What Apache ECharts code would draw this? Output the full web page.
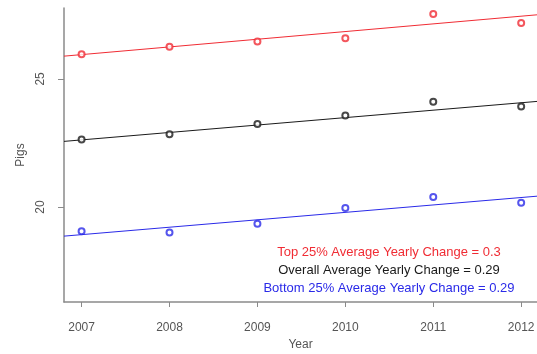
<!DOCTYPE html>
<html>
<head>
<meta charset="utf-8">
<title>Pigs by Year</title>
<script src="https://cdn.jsdelivr.net/npm/echarts@6/dist/echarts.min.js"></script>
<style>
  html, body { margin: 0; padding: 0; background: #ffffff; }
  #chart { width: 537px; height: 354px; }
</style>
</head>
<body>
<div id="chart"></div>
<script>
// Yearly pig counts for three groups
const years = [2007, 2008, 2009, 2010, 2011, 2012];
const top25 = [25.96, 26.26, 26.46, 26.59, 27.54, 27.18];
const overall = [22.64, 22.84, 23.24, 23.57, 24.11, 23.92];
const bottom25 = [19.05, 19.00, 19.35, 19.96, 20.39, 20.17];

// Trend lines: yearly change (slope) and fitted value in 2007
const slopes = [0.3, 0.29, 0.29];
const fitStart = [25.95, 22.62, 18.92];

const yTicks = [20, 25];
const noteLines = [
  'Top 25% Average Yearly Change = 0.3',
  'Overall Average Yearly Change = 0.29',
  'Bottom 25% Average Yearly Change = 0.29'
];

const colors = ['#f02c34', '#1a1a1a', '#2a2ae8'];
const groups = [top25, overall, bottom25];

const xMin = 2006.8, xMax = 2012.18;
const yMin = 16.29, yMax = 27.77;

function trend(i) {
  const at = x => fitStart[i] + slopes[i] * (x - years[0]);
  return [[xMin, at(xMin)], [xMax, at(xMax)]];
}

const series = [];
groups.forEach((vals, i) => {
  series.push({
    type: 'line',
    data: trend(i),
    symbol: 'none',
    lineStyle: { color: colors[i], width: 1 },
    silent: true,
    z: 2
  });
  series.push({
    type: 'scatter',
    data: years.map((y, k) => [y, vals[k]]),
    symbol: 'emptyCircle',
    symbolSize: 6,
    itemStyle: { color: colors[i], borderColor: colors[i], borderWidth: 1.6 },
    z: 3
  });
});

const font = 'Liberation Sans, Arial, sans-serif';
const axisGrey = '#8a8a8a';
const textGrey = '#555555';

const chart = echarts.init(document.getElementById('chart'), null, { renderer: 'canvas' });
chart.setOption({
  animation: false,
  backgroundColor: '#ffffff',
  grid: { left: 64, right: 0, top: 8, bottom: 52, outerBoundsMode: 'none', containLabel: false },
  xAxis: {
    type: 'value',
    min: xMin,
    max: xMax,
    name: 'Year',
    nameLocation: 'middle',
    nameGap: 37,
    nameTextStyle: { color: textGrey, fontFamily: font, fontSize: 12 },
    axisLine: { show: true, lineStyle: { color: axisGrey, width: 1.5 } },
    axisTick: { show: true, length: 5, lineStyle: { color: axisGrey }, customValues: years },
    axisLabel: {
      color: textGrey, fontFamily: font, fontSize: 12, margin: 20,
      customValues: years,
      formatter: v => String(Math.round(v))
    },
    splitLine: { show: false }
  },
  yAxis: {
    type: 'value',
    min: yMin,
    max: yMax,
    name: 'Pigs',
    nameLocation: 'middle',
    nameGap: 35,
    nameRotate: 90,
    nameTextStyle: { color: textGrey, fontFamily: font, fontSize: 12 },
    axisLine: { show: true, lineStyle: { color: axisGrey, width: 1.5 } },
    axisTick: { show: true, length: 6, lineStyle: { color: axisGrey }, customValues: yTicks },
    axisLabel: {
      color: textGrey, fontFamily: font, fontSize: 12, margin: 17, rotate: 90,
      customValues: yTicks,
      formatter: v => String(Math.round(v))
    },
    splitLine: { show: false }
  },
  graphic: noteLines.map((t, i) => ({
    type: 'text',
    x: 389,
    y: 246 + i * 18,
    style: {
      text: t,
      fill: colors[i],
      font: '13px ' + font,
      textAlign: 'center',
      textVerticalAlign: 'top'
    }
  })),
  series: series
});
</script>
</body>
</html>
